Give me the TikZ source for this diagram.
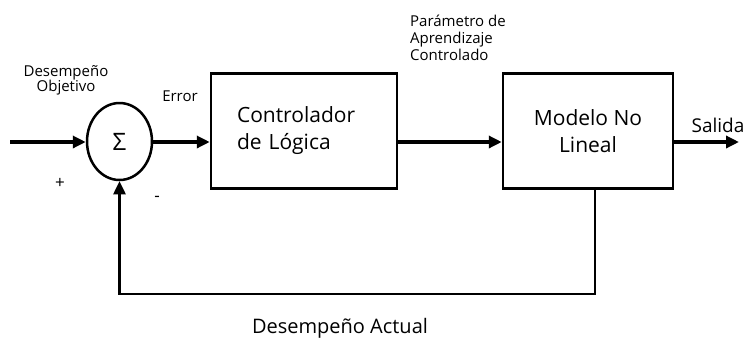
\documentclass[tikz,border=0pt]{standalone}
\usepackage{fontspec}
\setmainfont{Open Sans}
\usepackage{tikz}
\usetikzlibrary{shapes.geometric,arrows.meta,positioning}

\begin{document}
\begin{tikzpicture}[x=1pt,y=-1pt,
	block/.style={rectangle,draw,line width=2.5pt,minimum height=115pt},
	sum/.style={ellipse,draw,line width=2.5pt,minimum width=65pt,minimum height=77pt,inner sep=0pt},
	arr/.style={line width=3.8pt,-{Triangle[length=13pt,width=12pt]}},
	lbl/.style={inner sep=0pt,font=\fontsize{15}{15}\selectfont}]
\useasboundingbox (0,0) rectangle (744,338);
\node [sum] (s) at (119.5,141.5) {\fontsize{24}{24}\selectfont Σ};
\node [block,text width=134pt,inner xsep=26pt,align=left,font=\fontsize{21}{27}\selectfont] (c) at (304,131) {Controlador\\de Lógica};
\node [block,minimum width=170pt,align=center,font=\fontsize{21}{27}\selectfont] (m) at (588,131) {Modelo No\\Lineal};
\coordinate (in) at (10,142);
\coordinate (out) at (739,142);
\draw [arr] (in) -- (in -| s.west);
\draw [arr] (s.east |- in) -- (in -| c.west);
\draw [arr] (c.east |- in) -- (in -| m.west);
\draw [arr] (m.east |- in) -- (out);
\draw [arr,line width=2.5pt] ([xshift=7pt]m.south) -- ++(0,104) -| (s.south);
\node [lbl,align=center] (obj) at (66,80) {Desempeño\\Objetivo};
\node [lbl] (err) at (180,96) {Error};
\node [lbl,align=left,anchor=west,font=\fontsize{15}{17}\selectfont] (par) at (410,38) {Parámetro de\\Aprendizaje\\Controlado};
\node [lbl,font=\fontsize{19}{19}\selectfont] (sal) at (718,125) {Salida};
\node [lbl,font=\fontsize{20}{20}\selectfont] (act) at (340,328) {Desempeño Actual};
\node [lbl,font=\fontsize{17}{17}\selectfont] (mas) at (60,183) {+};
\node [lbl,font=\fontsize{17}{17}\selectfont] (men) at (157,199) {-};
\end{tikzpicture}
\end{document}
